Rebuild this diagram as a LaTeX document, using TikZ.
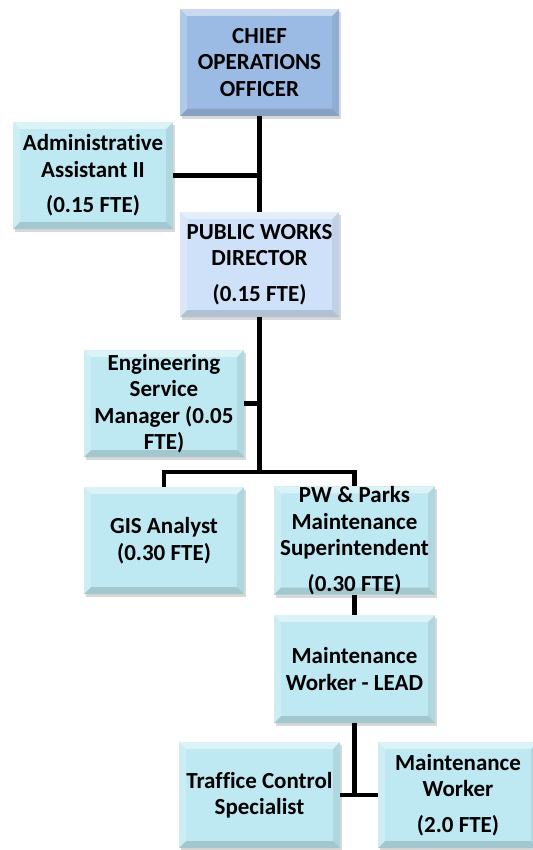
\documentclass[tikz,border=0pt]{standalone}
\usepackage{fontspec}
\setmainfont[Ligatures=NoCommon]{Carlito}
\usetikzlibrary{shadows}
\definecolor{ceoblue}{RGB}{155,187,228}
\definecolor{dirblue}{RGB}{207,225,248}
\definecolor{staffcyan}{RGB}{190,232,242}
\tikzset{
  bevel/.style={path picture={
    \coordinate (b-nw) at (path picture bounding box.north west);
    \coordinate (b-ne) at (path picture bounding box.north east);
    \coordinate (b-sw) at (path picture bounding box.south west);
    \coordinate (b-se) at (path picture bounding box.south east);
    \fill[white,opacity=.45] (b-nw) -- (b-ne) -- ([shift={(-7pt,-7pt)}]b-ne) -- ([shift={(7pt,-7pt)}]b-nw) -- cycle;
    \fill[black,opacity=.14] (b-sw) -- (b-se) -- ([shift={(-7pt,7pt)}]b-se) -- ([shift={(7pt,7pt)}]b-sw) -- cycle;
    \fill[white,opacity=.22] (b-nw) -- ([shift={(7pt,-7pt)}]b-nw) -- ([shift={(7pt,7pt)}]b-sw) -- (b-sw) -- cycle;
    \fill[black,opacity=.07] (b-ne) -- ([shift={(-7pt,-7pt)}]b-ne) -- ([shift={(-7pt,7pt)}]b-se) -- (b-se) -- cycle;
  }},
  post/.style={fill=staffcyan, minimum width=160pt, minimum height=107pt,
    inner sep=0pt, align=center, font=\bfseries\fontsize{23}{26.5}\selectfont,
    drop shadow={opacity=0.3,shadow xshift=2pt,shadow yshift=-3pt}, bevel},
  link/.style={line width=4.5pt, line join=miter}
}
\begin{document}
\begin{tikzpicture}[x=1pt,y=-1pt]
  \useasboundingbox[fill=white] (0,0) rectangle (532,850);
  % boxes
  \node[post,fill=ceoblue,minimum width=159pt] (coo) at (259.5,62.5) {CHIEF\\OPERATIONS\\OFFICER};
  \node[post] (admin) at (93,175.5) {Administrative\\Assistant II\\[9pt](0.15 FTE)};
  \node[post,fill=dirblue,minimum width=159pt,minimum height=105pt] (pwd) at (259.5,264.5) {PUBLIC WORKS\\DIRECTOR\\[9pt](0.15 FTE)};
  \node[post] (eng) at (164,403.5) {Engineering\\Service\\Manager (0.05\\FTE)};
  \node[post] (gis) at (164,540.5) {GIS Analyst\\(0.30 FTE)};
  \node[post,minimum width=161pt] (supt) at (354.5,540.5) {PW \& Parks\\Maintenance\\Superintendent\\[9pt](0.30 FTE)};
  \node[post,minimum width=161pt,minimum height=108pt] (lead) at (354.5,669) {Maintenance\\Worker - LEAD};
  \node[post,minimum width=161pt,minimum height=106pt] (traffic) at (259.5,795) {Traffice Control\\Specialist};
  \node[post,minimum width=160pt,minimum height=106pt] (worker) at (458,795) {Maintenance\\Worker\\[9pt](2.0 FTE)};
  % lines
  \coordinate (bus) at (259.5,472);
  \draw[link] (coo.south) -- (pwd.north);
  \draw[link] (admin.east) -- (admin.east -| coo.south);
  \draw[link] (pwd.south) -- (bus);
  \draw[link] (eng.east) -- (eng.east -| pwd.south);
  \draw[link] (gis.north) -- (gis.north |- bus) -- (supt.north |- bus) -- (supt.north);
  \draw[link] (supt.south) -- (lead.north);
  \draw[link] (lead.south) -- (lead.south |- traffic.east);
  \draw[link] (traffic.east) -- (worker.west);
\end{tikzpicture}
\end{document}
